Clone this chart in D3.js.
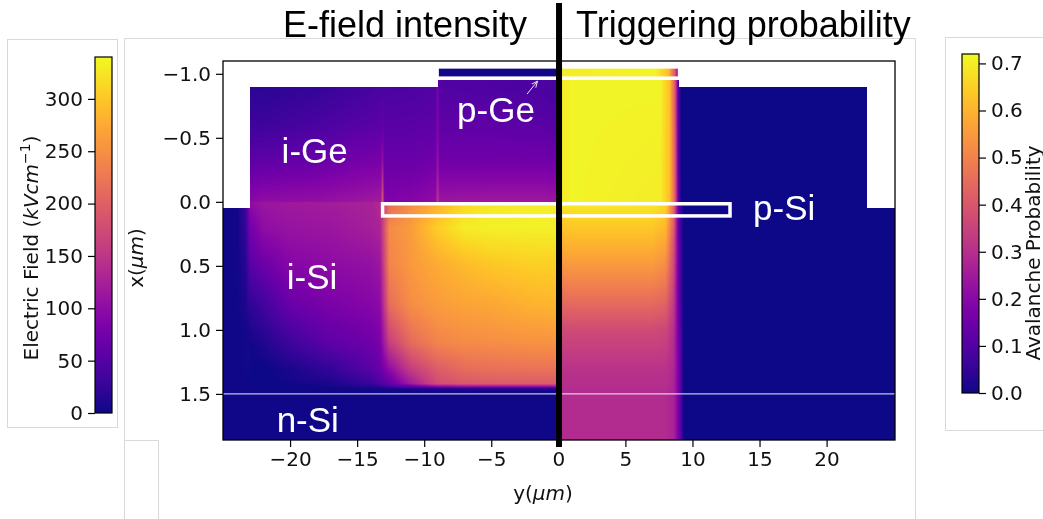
<!DOCTYPE html>
<html><head><meta charset="utf-8">
<script src="https://cdn.jsdelivr.net/npm/d3@7"></script>
<style>
html,body{margin:0;padding:0;background:#fff;}
#wrap{position:relative;width:1043px;height:519px;overflow:hidden;background:#fff;}
canvas,svg{position:absolute;left:0;top:0;}
</style></head><body>
<div id="wrap"><canvas id="cv" width="1043" height="519"></canvas><svg id="sv" width="1043" height="519"></svg></div>
<script>
// ---------------- data ----------------
const yDomain = [-25, 25.1];          // horizontal axis y(um)
const xDomain = [-1.1, 1.86];         // vertical axis x(um)
const yTicks = [-20, -15, -10, -5, 0, 5, 10, 15, 20];
const xTicks = [-1.0, -0.5, 0.0, 0.5, 1.0, 1.5];
const fieldMax = 340;                 // kV/cm
const probMax = 0.72;
const fieldTicks = [0, 50, 100, 150, 200, 250, 300];
const probTicks = [0.0, 0.1, 0.2, 0.3, 0.4, 0.5, 0.6, 0.7];

// E-field (kV/cm), left half. Rows follow the x nodes, columns the y nodes.
const pGeFieldY = [-9, 0];
const pGeFieldX = [-1.05, -0.975];
const pGeFieldV = [[3, 3], [3, 3]];

const geTopFieldY = [-9, -8.85, 0];
const geTopFieldX = [-0.95, -0.9];
const geTopFieldV = [[70, 48, 41], [70, 48, 41]];

const geFieldY = [-23, -22, -18, -15, -13.25, -13.1, -12.95, -11, -9.15, -9, -8.85, -5, -1, 0];
const geFieldX = [-0.9, -0.6, -0.3, 0];
const geFieldV = [
  [17, 17, 24, 34, 41, 43, 41, 44, 48, 85, 48, 44, 41, 38],
  [31, 31, 41, 51, 54, 60, 54, 54, 58, 90, 58, 58, 54, 50],
  [58, 61, 68, 78, 82, 110, 68, 68, 75, 110, 75, 75, 75, 72],
  [95, 102, 105, 112, 119, 187, 85, 92, 102, 150, 112, 116, 116, 112]
];

const siEdgeFieldY = [-25, -23.9, -23.3, -23];
const siEdgeFieldX = [0.05, 0.5, 1.0, 1.5];
const siEdgeFieldV = [
  [2, 3, 30, 95],
  [2, 3, 15, 51],
  [2, 2, 4, 6],
  [2, 2, 2, 2]
];

const siFieldY = [-23, -22, -20, -17, -14, -13.3, -12.6, -11, -9, -7, -5, -2, 0];
const siFieldX = [0, 0.2, 0.5, 0.8, 1.1, 1.3, 1.42, 1.445, 1.46, 1.5];
const siFieldV = [
  [102, 112, 116, 119, 126, 136, 211, 245, 279, 313, 326, 330, 330],
  [75, 102, 109, 112, 122, 129, 245, 262, 306, 330, 333, 333, 333],
  [51, 68, 92, 99, 105, 112, 238, 258, 275, 289, 299, 306, 306],
  [20, 34, 68, 82, 92, 99, 214, 248, 262, 269, 272, 282, 286],
  [3, 10, 31, 58, 71, 82, 160, 211, 238, 245, 248, 252, 252],
  [0, 0, 7, 24, 54, 68, 102, 160, 197, 214, 218, 221, 221],
  [0, 0, 3, 7, 27, 41, 61, 119, 177, 190, 194, 194, 194],
  [0, 0, 0, 3, 10, 17, 27, 51, 85, 95, 95, 95, 95],
  [2, 2, 2, 2, 3, 3, 4, 5, 6, 6, 6, 6, 6],
  [2, 2, 2, 2, 2, 2, 2, 2, 2, 2, 2, 2, 2]
];

const nSiFieldY = [-25, 0];
const nSiFieldX = [1.5, 1.86];
const nSiFieldV = [[2, 2], [2, 2]];

// Avalanche (triggering) probability, right half.
const pGeProbY = [0, 7.2, 8.2, 8.7, 9];
const pGeProbX = [-1.05, -0.975];
const pGeProbV = [[0.70, 0.71, 0.62, 0.40, 0.12], [0.70, 0.71, 0.62, 0.40, 0.12]];

const geTopProbY = [0, 1, 7.6, 8.3, 8.7, 9.0];
const geTopProbX = [-0.95, -0.9];
const geTopProbV = [[0.69, 0.71, 0.71, 0.62, 0.40, 0.05], [0.69, 0.71, 0.71, 0.62, 0.40, 0.05]];

const geProbY = [0, 1, 7.6, 8.3, 8.7, 9.0, 9.2, 23];
const geProbX = [-0.9, 0];
const geProbV = [
  [0.69, 0.71, 0.71, 0.62, 0.40, 0.05, 0, 0],
  [0.69, 0.71, 0.70, 0.62, 0.42, 0.08, 0, 0]
];

const siProbY = [0, 1, 7, 8, 8.6, 9, 9.35, 23];
const siProbX = [0, 0.15, 0.4, 0.7, 1.0, 1.3, 1.5, 1.86];
const siProbV = [
  [0.70, 0.70, 0.70, 0.67, 0.45, 0.10, 0, 0],
  [0.64, 0.65, 0.65, 0.62, 0.42, 0.10, 0, 0],
  [0.57, 0.58, 0.58, 0.55, 0.38, 0.12, 0, 0],
  [0.47, 0.48, 0.48, 0.46, 0.34, 0.12, 0, 0],
  [0.37, 0.37, 0.37, 0.36, 0.30, 0.14, 0, 0],
  [0.31, 0.31, 0.31, 0.31, 0.28, 0.16, 0, 0],
  [0.29, 0.29, 0.29, 0.29, 0.27, 0.16, 0, 0],
  [0.29, 0.29, 0.29, 0.29, 0.27, 0.16, 0, 0]
];

const siEdgeProbY = [23, 25.1];
const siEdgeProbX = [0.05, 1.86];
const siEdgeProbV = [[0, 0], [0, 0]];

// annotations (data coordinates: y horizontal, x vertical)
const regionLabels = [
  {text: "i-Ge", y: -20.63, x: -0.305},
  {text: "p-Ge", y: -7.55, x: -0.626},
  {text: "i-Si", y: -20.25, x: 0.683},
  {text: "n-Si", y: -21.0, x: 1.796},
  {text: "p-Si", y: 14.52, x: 0.142}
];
const pSiBox = {y0: -13.1, y1: 12.8, x0: 0.015, x1: 0.11};
const pGeBox = {y0: -9, y1: 9, x0: -1.05, x1: -0.97};
const pGeArrow = {y0: -2.33, x0: -0.842, y1: -1.55, x1: -0.943};
const nSiInterface = 1.5;
const titles = ["E-field intensity", "Triggering probability"];

// ---------------- scales ----------------
const plot = {left: 223, right: 895, top: 61, bottom: 440};
const xs = d3.scaleLinear().domain(yDomain).range([plot.left, plot.right]);
const ys = d3.scaleLinear().domain(xDomain).range([plot.top, plot.bottom]);
const fieldColor = d3.scaleSequential(d3.interpolatePlasma).domain([0, fieldMax]).clamp(true);
const probColor = d3.scaleSequential(d3.interpolatePlasma).domain([0, probMax]).clamp(true);

const regions = [
  {c: fieldColor, y: pGeFieldY, x: pGeFieldX, v: pGeFieldV},
  {c: fieldColor, y: geTopFieldY, x: geTopFieldX, v: geTopFieldV},
  {c: fieldColor, y: geFieldY, x: geFieldX, v: geFieldV},
  {c: fieldColor, y: siEdgeFieldY, x: siEdgeFieldX, v: siEdgeFieldV},
  {c: fieldColor, y: siFieldY, x: siFieldX, v: siFieldV},
  {c: fieldColor, y: nSiFieldY, x: nSiFieldX, v: nSiFieldV},
  {c: probColor, y: pGeProbY, x: pGeProbX, v: pGeProbV},
  {c: probColor, y: geTopProbY, x: geTopProbX, v: geTopProbV},
  {c: probColor, y: geProbY, x: geProbX, v: geProbV},
  {c: probColor, y: siProbY, x: siProbX, v: siProbV},
  {c: probColor, y: siEdgeProbY, x: siEdgeProbX, v: siEdgeProbV}
];

// ---------------- heatmap (gouraud-style shading of the node grids) ----------------
const cv = document.getElementById("cv");
const ctx = cv.getContext("2d");
function locate(nodes, val) {
  const n = nodes.length;
  if (val <= nodes[0]) return [0, 0];
  if (val >= nodes[n - 1]) return [n - 2, 1];
  let i = d3.bisectRight(nodes, val) - 1;
  if (i > n - 2) i = n - 2;
  return [i, (val - nodes[i]) / (nodes[i + 1] - nodes[i])];
}
function paint(reg) {
  const L = Math.round(xs(reg.y[0])), R = Math.round(xs(reg.y[reg.y.length - 1]));
  const T = Math.round(ys(reg.x[0])), B = Math.round(ys(reg.x[reg.x.length - 1]));
  const w = R - L, h = B - T;
  if (w <= 0 || h <= 0) return;
  const img = ctx.createImageData(w, h);
  const d = img.data;
  const cols = [];
  for (let i = 0; i < w; i++) cols.push(locate(reg.y, xs.invert(L + i + 0.5)));
  for (let j = 0; j < h; j++) {
    const [r, fr] = locate(reg.x, ys.invert(T + j + 0.5));
    const row0 = reg.v[r], row1 = reg.v[r + 1];
    for (let i = 0; i < w; i++) {
      const [k, fk] = cols[i];
      const a = row0[k] * (1 - fk) + row0[k + 1] * fk;
      const b = row1[k] * (1 - fk) + row1[k + 1] * fk;
      const val = a * (1 - fr) + b * fr;
      const col = d3.rgb(reg.c(val));
      const p = (j * w + i) * 4;
      d[p] = col.r; d[p + 1] = col.g; d[p + 2] = col.b; d[p + 3] = 255;
    }
  }
  ctx.putImageData(img, L, T);
}
ctx.fillStyle = "#fff";
ctx.fillRect(0, 0, 1043, 519);
regions.forEach(paint);

// ---------------- svg overlay ----------------
const svg = d3.select("#sv");
const grey = "#d9d9d9";
// panel frames (pasted-figure borders)
svg.append("rect").attr("x", 7.5).attr("y", 39.5).attr("width", 110).attr("height", 388)
  .attr("fill", "none").attr("stroke", grey);
svg.append("path").attr("d", "M124.5,519 V440.5 M124.5,440.5 H158.5 V519 M124.5,440.5 V38.5 H915.5 V519")
  .attr("fill", "none").attr("stroke", grey);
svg.append("path").attr("d", "M1043,37.5 H945.5 V430.5 H1043").attr("fill", "none").attr("stroke", grey);

const tickFont = "'DejaVu Sans', sans-serif";
const labFont = "'Liberation Sans', Arial, sans-serif";

// n-Si interface line
svg.append("line").attr("x1", xs(yDomain[0])).attr("x2", xs(yDomain[1]))
  .attr("y1", ys(nSiInterface)).attr("y2", ys(nSiInterface))
  .attr("stroke", "rgba(255,255,255,0.75)").attr("stroke-width", 1.2);

// boxes
svg.append("rect").attr("x", xs(pSiBox.y0)).attr("y", ys(pSiBox.x0))
  .attr("width", xs(pSiBox.y1) - xs(pSiBox.y0)).attr("height", ys(pSiBox.x1) - ys(pSiBox.x0))
  .attr("fill", "none").attr("stroke", "#fff").attr("stroke-width", 3.5);
svg.append("rect").attr("x", xs(pGeBox.y0)).attr("y", ys(pGeBox.x0))
  .attr("width", xs(pGeBox.y1) - xs(pGeBox.y0)).attr("height", ys(pGeBox.x1) - ys(pGeBox.x0))
  .attr("fill", "none").attr("stroke", "#fff").attr("stroke-width", 2.5);

// region labels
svg.selectAll("text.reg").data(regionLabels).join("text").attr("class", "reg")
  .attr("x", d => xs(d.y)).attr("y", d => ys(d.x))
  .attr("fill", "#fff").attr("font-family", labFont).attr("font-size", 35)
  .text(d => d.text);

// arrow
const defs = svg.append("defs");
defs.append("marker").attr("id", "ah").attr("viewBox", "0 0 10 10").attr("refX", 9).attr("refY", 5)
  .attr("markerWidth", 7).attr("markerHeight", 7).attr("orient", "auto")
  .append("path").attr("d", "M0,1 L9,5 L0,9").attr("fill", "none").attr("stroke", "#e6e6f5").attr("stroke-width", 1.3);
svg.append("line").attr("x1", xs(pGeArrow.y0)).attr("y1", ys(pGeArrow.x0))
  .attr("x2", xs(pGeArrow.y1)).attr("y2", ys(pGeArrow.x1))
  .attr("stroke", "#e6e6f5").attr("stroke-width", 1).attr("marker-end", "url(#ah)");

// axes
const gx = svg.append("g").attr("transform", `translate(0,${plot.bottom})`)
  .call(d3.axisBottom(xs).tickValues(yTicks).tickFormat(d3.format("d")).tickSize(7).tickPadding(5));
const gy = svg.append("g").attr("transform", `translate(${plot.left},0)`)
  .call(d3.axisLeft(ys).tickValues(xTicks).tickFormat(d3.format(".1f")).tickSize(7).tickPadding(5));
[gx, gy].forEach(g => {
  g.select(".domain").remove();
  g.selectAll(".tick line").attr("stroke", "#000").attr("stroke-width", 1.2);
  g.selectAll(".tick text").attr("font-family", tickFont).attr("font-size", 20).attr("fill", "#111");
});
svg.append("rect").attr("x", plot.left).attr("y", plot.top)
  .attr("width", plot.right - plot.left).attr("height", plot.bottom - plot.top)
  .attr("fill", "none").attr("stroke", "#000").attr("stroke-width", 1.3);

// axis labels
const xl = svg.append("text").attr("x", 543).attr("y", 500)
  .attr("text-anchor", "middle").attr("font-family", tickFont).attr("font-size", 20).attr("fill", "#111");
xl.append("tspan").text("y(");
xl.append("tspan").attr("font-style", "italic").text("μm");
xl.append("tspan").text(")");
const yl = svg.append("text").attr("transform", "translate(143,258) rotate(-90)")
  .attr("text-anchor", "middle").attr("font-family", tickFont).attr("font-size", 20).attr("fill", "#111");
yl.append("tspan").text("x(");
yl.append("tspan").attr("font-style", "italic").text("μm");
yl.append("tspan").text(")");

// black divider
svg.append("line").attr("x1", xs(0) + 0.7).attr("x2", xs(0) + 0.7).attr("y1", 3).attr("y2", 447)
  .attr("stroke", "#000").attr("stroke-width", 6);

// titles
svg.append("text").attr("x", 283).attr("y", 37).attr("font-family", labFont).attr("font-size", 36)
  .attr("fill", "#000").text(titles[0]);
svg.append("text").attr("x", 576).attr("y", 37).attr("font-family", labFont).attr("font-size", 36)
  .attr("fill", "#000").text(titles[1]);

// colorbars
function gradient(id) {
  const g = defs.append("linearGradient").attr("id", id).attr("x1", 0).attr("y1", 1).attr("x2", 0).attr("y2", 0);
  d3.range(0, 1.0001, 0.05).forEach(t => g.append("stop").attr("offset", t).attr("stop-color", d3.interpolatePlasma(t)));
}
gradient("gF"); gradient("gP");
const cbF = d3.scaleLinear().domain([0, fieldMax]).range([413, 57]);
const cbP = d3.scaleLinear().domain([0, probMax]).range([393, 54]);
svg.append("rect").attr("x", 95).attr("y", cbF(fieldMax)).attr("width", 17).attr("height", cbF(0) - cbF(fieldMax))
  .attr("fill", "url(#gF)").attr("stroke", "#000").attr("stroke-width", 1.2);
svg.append("rect").attr("x", 962).attr("y", cbP(probMax)).attr("width", 17).attr("height", cbP(0) - cbP(probMax))
  .attr("fill", "url(#gP)").attr("stroke", "#000").attr("stroke-width", 1.2);
const gcf = svg.append("g").attr("transform", "translate(95,0)")
  .call(d3.axisLeft(cbF).tickValues(fieldTicks).tickFormat(d3.format("d")).tickSize(7).tickPadding(5));
const gcp = svg.append("g").attr("transform", "translate(979,0)")
  .call(d3.axisRight(cbP).tickValues(probTicks).tickFormat(d3.format(".1f")).tickSize(7).tickPadding(5));
[gcf, gcp].forEach(g => {
  g.select(".domain").remove();
  g.selectAll(".tick line").attr("stroke", "#000").attr("stroke-width", 1.2);
  g.selectAll(".tick text").attr("font-family", tickFont).attr("font-size", 20).attr("fill", "#111");
});
const fl = svg.append("text").attr("transform", "translate(38,248) rotate(-90)")
  .attr("text-anchor", "middle").attr("font-family", tickFont).attr("font-size", 20).attr("fill", "#111");
fl.append("tspan").text("Electric Field (");
fl.append("tspan").attr("font-style", "italic").text("kVcm");
fl.append("tspan").attr("font-size", 14).attr("dy", -8).text("−1");
fl.append("tspan").attr("dy", 8).text(")");
svg.append("text").attr("transform", "translate(1040,253) rotate(-90)")
  .attr("text-anchor", "middle").attr("font-family", tickFont).attr("font-size", 20).attr("fill", "#111")
  .text("Avalanche Probability");
</script></body></html>
